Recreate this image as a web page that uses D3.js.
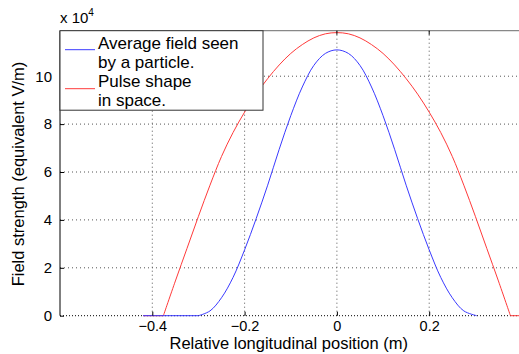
<!DOCTYPE html>
<html>
<head>
<meta charset="utf-8">
<script src="https://cdn.jsdelivr.net/npm/d3@7"></script>
<style>
  body { margin: 0; background: #fff; }
  text { font-family: "Liberation Sans", Arial, sans-serif; fill: #000; }
</style>
</head>
<body>
<svg width="519" height="354"></svg>
<script>
var svg = d3.select('svg');

// values (field in units of 1e4 V/m)
var blueX = [-0.42, -0.30, -0.275, -0.25, -0.225, -0.2, -0.175, -0.15, -0.125, -0.1, -0.075, -0.05, -0.025, 0,
             0.025, 0.05, 0.075, 0.1, 0.125, 0.15, 0.175, 0.2, 0.225, 0.25, 0.275, 0.303];
var blueY = [0, 0, 0.2, 0.75, 1.6, 2.75, 4.05, 5.45, 6.95, 8.35, 9.55, 10.45, 10.95, 11.1,
             10.95, 10.45, 9.55, 8.35, 6.95, 5.45, 4.05, 2.75, 1.6, 0.75, 0.2, 0];
var redX = [-0.42, -0.376, -0.35, -0.325, -0.3, -0.275, -0.25, -0.225, -0.2, -0.175, -0.15, -0.125, -0.1, -0.075, -0.05, -0.025, 0,
            0.025, 0.05, 0.075, 0.1, 0.125, 0.15, 0.175, 0.2, 0.225, 0.25, 0.275, 0.3, 0.325, 0.35, 0.376, 0.42];
var redY = [0, 0, 1.45, 2.8, 4.15, 5.45, 6.65, 7.65, 8.5, 9.25, 9.9, 10.47, 10.95, 11.32, 11.6, 11.77, 11.82,
            11.77, 11.6, 11.32, 10.95, 10.47, 9.9, 9.25, 8.5, 7.65, 6.65, 5.45, 4.15, 2.8, 1.45, 0, 0];
var xTicks = [-0.4, -0.2, 0, 0.2];
var yTicks = [0, 2, 4, 6, 8, 10];
var legendLabels = [["Average field seen", "by a particle."], ["Pulse shape", "in space."]];
var seriesColors = ["#3a3aff", "#ff3a3a"];

var pLeft = 60, pRight = 521.5, pTop = 30.7, pBottom = 315.7;
var x = d3.scaleLinear().domain([-0.6, 0.4]).range([pLeft, pRight]);
var y = d3.scaleLinear().domain([0, 11.9]).range([pBottom, pTop]);

// grid
var grid = svg.append("g").attr("stroke", "#555").attr("stroke-dasharray", "1,3").attr("stroke-width", 1);
xTicks.forEach(function (t) {
    grid.append("line").attr("x1", x(t)).attr("x2", x(t)).attr("y1", pTop).attr("y2", pBottom);
});
yTicks.forEach(function (t) {
    grid.append("line").attr("x1", pLeft).attr("x2", pRight).attr("y1", y(t)).attr("y2", y(t))
        .attr("stroke", t === 0 ? "#000" : null).attr("stroke-dasharray", t === 0 ? "1,2" : null);
});

// curves: smooth hump, straight flat parts
var smooth = d3.line()
    .x(function (d) { return x(d[0]); })
    .y(function (d) { return y(d[1]); })
    .curve(d3.curveCatmullRom.alpha(0.5));
var flat = d3.line()
    .defined(function (d) { return d[1] === 0; })
    .x(function (d) { return x(d[0]); })
    .y(function (d) { return y(d[1]); });

function drawSeries(xs, ys, color) {
    var pts = d3.zip(xs, ys);
    var first = 0, last = pts.length - 1;
    while (first + 1 < pts.length && pts[first + 1][1] === 0) first++;
    while (last - 1 >= 0 && pts[last - 1][1] === 0) last--;
    svg.append("path").datum(pts).attr("d", flat)
        .attr("fill", "none").attr("stroke", color).attr("stroke-width", 1);
    svg.append("path").datum(pts.slice(first, last + 1)).attr("d", smooth)
        .attr("fill", "none").attr("stroke", color).attr("stroke-width", 1);
}
drawSeries(redX, redY, seriesColors[1]);
drawSeries(blueX, blueY, seriesColors[0]);

// axes box
svg.append("line").attr("x1", pLeft).attr("x2", pLeft).attr("y1", pTop).attr("y2", pBottom)
    .attr("stroke", "#000").attr("stroke-width", 1);
svg.append("line").attr("x1", pLeft).attr("x2", pRight).attr("y1", pTop).attr("y2", pTop)
    .attr("stroke", "#888").attr("stroke-width", 1.3);

var yAxis = d3.axisLeft(y).tickValues(yTicks).tickSize(-4).tickPadding(8)
    .tickFormat(function (d) { return d; });
var ya = svg.append("g").attr("transform", "translate(" + pLeft + ",0)").call(yAxis);
ya.select(".domain").remove();
ya.selectAll("text").attr("font-size", 15).attr("font-family", "Liberation Sans, Arial, sans-serif");

var xAxis = d3.axisBottom(x).tickValues(xTicks).tickSize(-4).tickPadding(5)
    .tickFormat(function (d) { return d === 0 ? "0" : d3.format(".1f")(d).replace("-", "\u2212"); });
var xa = svg.append("g").attr("transform", "translate(0," + pBottom + ")").call(xAxis);
xa.select(".domain").remove();
xa.selectAll("text").attr("font-size", 14.5).attr("font-family", "Liberation Sans, Arial, sans-serif");

// top ticks
xTicks.forEach(function (t) {
    svg.append("line").attr("x1", x(t)).attr("x2", x(t)).attr("y1", pTop).attr("y2", pTop + 4)
        .attr("stroke", "#000");
});

// exponent label
var ex = svg.append("text").attr("x", 60).attr("y", 23).attr("font-size", 15);
ex.append("tspan").text("x 10");
ex.append("tspan").attr("font-size", 10).attr("dy", -7).text("4");

// axis titles
svg.append("text")
    .attr("x", (pLeft + pRight) / 2 - 2).attr("y", 349)
    .attr("text-anchor", "middle").attr("font-size", 16.5)
    .text("Relative longitudinal position (m)");
svg.append("text")
    .attr("transform", "translate(24,174) rotate(-90)")
    .attr("text-anchor", "middle").attr("font-size", 16.5)
    .text("Field strength (equivalent V/m)");

// legend
var lg = svg.append("g");
lg.append("rect").attr("x", pLeft).attr("y", pTop).attr("width", 203).attr("height", 79.5)
    .attr("fill", "#fff").attr("stroke", "#333").attr("stroke-width", 1);
legendLabels.forEach(function (lines, i) {
    var ly = pTop + 19 + i * 39;
    lg.append("line").attr("x1", 65).attr("x2", 95).attr("y1", ly).attr("y2", ly)
        .attr("stroke", seriesColors[i]).attr("stroke-width", 1);
    lines.forEach(function (s, j) {
        lg.append("text").attr("x", 98).attr("y", pTop + 18 + i * 38.5 + j * 19)
            .attr("font-size", 17).text(s);
    });
});
</script>
</body>
</html>
